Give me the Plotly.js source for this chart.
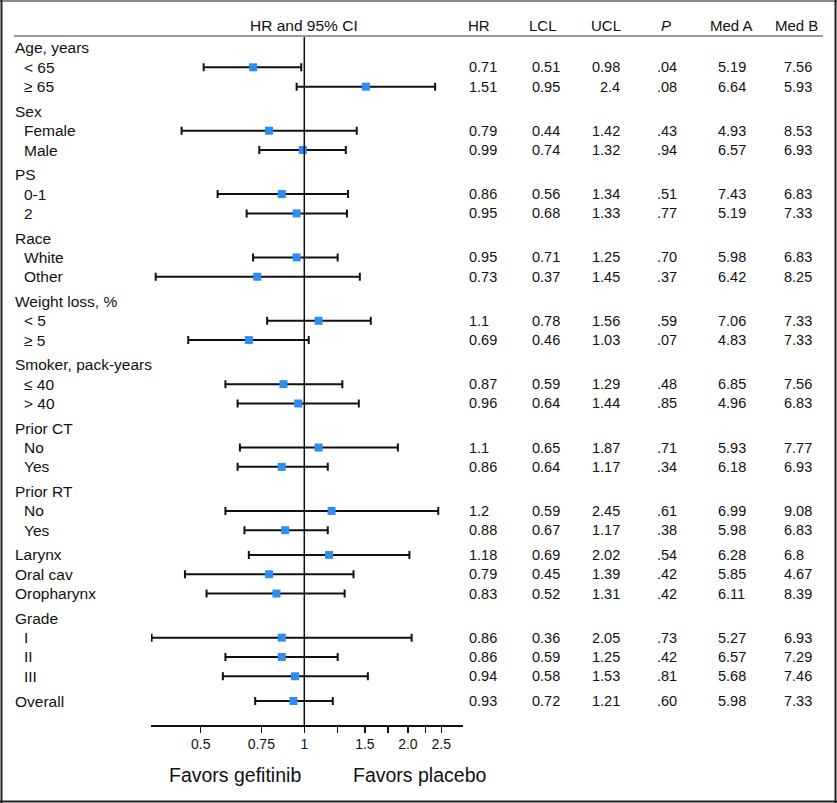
<!DOCTYPE html>
<html>
<head>
<meta charset="utf-8">
<script src="https://cdn.plot.ly/plotly-3.0.1.min.js"></script>
<style>html,body{margin:0;padding:0;background:#fff;}#chart{width:837px;height:803px;}</style>
</head>
<body>
<div id="chart"></div>
<script>
// ---- data ----
var rowLabels = ["Age, years","< 65","\u2265 65","Sex","Female","Male","PS","0-1","2","Race","White","Other",
  "Weight loss, %","< 5","\u2265 5","Smoker, pack-years","\u2264 40","> 40","Prior CT","No","Yes","Prior RT","No","Yes",
  "Larynx","Oral cav","Oropharynx","Grade","I","II","III","Overall"];
var rowLevel = [0,1,1,0,1,1,0,1,1,0,1,1,0,1,1,0,1,1,0,1,1,0,1,1,0,0,0,0,1,1,1,0];
var rowSection = [1,1,1,2,2,2,3,3,3,4,4,4,5,5,5,6,6,6,7,7,7,8,8,8,9,9,9,10,10,10,10,11];
var hr   = [null,0.71,1.51,null,0.79,0.99,null,0.86,0.95,null,0.95,0.73,null,1.1,0.69,null,0.87,0.96,null,1.1,0.86,null,1.2,0.88,1.18,0.79,0.83,null,0.86,0.86,0.94,0.93];
var lcl  = [null,0.51,0.95,null,0.44,0.74,null,0.56,0.68,null,0.71,0.37,null,0.78,0.46,null,0.59,0.64,null,0.65,0.64,null,0.59,0.67,0.69,0.45,0.52,null,0.36,0.59,0.58,0.72];
var ucl  = [null,0.98,2.4,null,1.42,1.32,null,1.34,1.33,null,1.25,1.45,null,1.56,1.03,null,1.29,1.44,null,1.87,1.17,null,2.45,1.17,2.02,1.39,1.31,null,2.05,1.25,1.53,1.21];
var pval = [null,".04",".08",null,".43",".94",null,".51",".77",null,".70",".37",null,".59",".07",null,".48",".85",null,".71",".34",null,".61",".38",".54",".42",".42",null,".73",".42",".81",".60"];
var medA = [null,5.19,6.64,null,4.93,6.57,null,7.43,5.19,null,5.98,6.42,null,7.06,4.83,null,6.85,4.96,null,5.93,6.18,null,6.99,5.98,6.28,5.85,6.11,null,5.27,6.57,5.68,5.98];
var medB = [null,7.56,5.93,null,8.53,6.93,null,6.83,7.33,null,6.83,8.25,null,7.33,7.33,null,7.56,6.83,null,7.77,6.93,null,9.08,6.83,6.8,4.67,8.39,null,6.93,7.29,7.46,7.33];
var tickVals = [0.5,0.75,1,1.25,1.5,1.75,2,2.25,2.5];
var tickText = ["0.5","0.75","1","","1.5","","2.0","","2.5"];
var colHeaders = ["HR","LCL","UCL","<i>P</i>","Med A","Med B"];

// ---- layout constants ----
var W = 837, H = 803;
var FONT = "Liberation Sans, Arial, sans-serif";
var GAP = 0.28;
var ys = [], y = 0;
for (var i = 0; i < rowLabels.length; i++) {
  if (i > 0 && rowSection[i] !== rowSection[i-1]) y += GAP;
  ys.push(y); y += 1;
}
var yTopPx = 36, yBotPx = 725, firstRowPx = 48, lastRowPx = 701;
var unitPx = (lastRowPx - firstRowPx) / (ys[ys.length-1] - ys[0]);
var yRange = [ys[ys.length-1] + (yBotPx - lastRowPx)/unitPx, ys[0] - (firstRowPx - yTopPx)/unitPx];

var px = [], py = [], ep = [], em = [];
for (var i = 0; i < hr.length; i++) {
  if (hr[i] === null) continue;
  px.push(hr[i]); py.push(ys[i]);
  ep.push(ucl[i] - hr[i]); em.push(hr[i] - lcl[i]);
}

var trace = {
  type: "scatter", mode: "markers", x: px, y: py,
  marker: {symbol: "square", size: 8, color: "#2b8ef0", line: {width: 0}},
  error_x: {type: "data", symmetric: false, array: ep, arrayminus: em, color: "#111", thickness: 2, width: 4},
  hoverinfo: "skip", cliponaxis: false
};

var ann = [];
function txt(x, yv, yref, t, size, anchor) {
  ann.push({x: x/W, xref: "paper", y: yv, yref: yref, text: t, showarrow: false,
    xanchor: anchor || "left", yanchor: "middle", font: {family: FONT, size: size, color: "#111"}});
}
// row labels
for (var i = 0; i < rowLabels.length; i++) {
  txt(rowLevel[i] === 0 ? 13 : 22, ys[i], "y", rowLabels[i], 15.5);
}
// table values
function fmt(v) { return v === null ? null : String(v); }
var colX = [467, 530, 622, 655, 716, 782];
var colAnchor = ["left","left","right","left","left","left"];
var cols = [hr, lcl, ucl, pval, medA, medB];
for (var c = 0; c < cols.length; c++) {
  for (var i = 0; i < rowLabels.length; i++) {
    var v = fmt(cols[c][i]);
    if (v !== null) txt(colX[c], ys[i], "y", v, 14.5, colAnchor[c]);
  }
}
// column headers
var hdrX = [479, 543, 606, 666, 731, 796];
for (var c = 0; c < colHeaders.length; c++) {
  ann.push({x: hdrX[c]/W, xref: "paper", y: 1 - 25/H, yref: "paper", text: colHeaders[c], showarrow: false,
    xanchor: "center", yanchor: "middle", font: {family: FONT, size: 15, color: "#111"}});
}
ann.push({x: 303.5/W, xref: "paper", y: 1 - 25/H, yref: "paper", text: "HR and 95% CI", showarrow: false,
  xanchor: "center", yanchor: "middle", font: {family: FONT, size: 15.5, color: "#111"}});
ann.push({x: 235/W, xref: "paper", y: 1 - 775/H, yref: "paper", text: "Favors gefitinib", showarrow: false,
  xanchor: "center", yanchor: "middle", font: {family: FONT, size: 19.5, color: "#111"}});
ann.push({x: 419.5/W, xref: "paper", y: 1 - 775/H, yref: "paper", text: "Favors placebo", showarrow: false,
  xanchor: "center", yanchor: "middle", font: {family: FONT, size: 19.5, color: "#111"}});

var shapes = [
  // vertical reference line at HR = 1
  {type: "line", xref: "x", yref: "paper", x0: 1, x1: 1, y0: 1 - yBotPx/H, y1: 1 - yTopPx/H, line: {color: "#111", width: 1.5}},
  // header underline
  {type: "line", xref: "paper", yref: "paper", x0: 14/W, x1: 823/W, y0: 1 - 36/H, y1: 1 - 36/H, line: {color: "#9a9a9a", width: 2}},
  // frame
  {type: "line", xref: "paper", yref: "paper", x0: 0, x1: 1, y0: 1 - 1/H, y1: 1 - 1/H, line: {color: "#8a8a8a", width: 2}},
  {type: "line", xref: "paper", yref: "paper", x0: 1.5/W, x1: 1.5/W, y0: 0, y1: 1, line: {color: "#222", width: 2}},
  {type: "line", xref: "paper", yref: "paper", x0: 835.5/W, x1: 835.5/W, y0: 0, y1: 1, line: {color: "#222", width: 2}},
  {type: "line", xref: "paper", yref: "paper", x0: 0, x1: 1, y0: 1.5/H, y1: 1.5/H, line: {color: "#222", width: 2}}
];

var xLeft = 151, xRight = 462.7, xOnePx = 304.3, pxPerDec = 344.2;
var layout = {
  width: W, height: H, margin: {l: 0, r: 0, t: 0, b: 0, pad: 0},
  paper_bgcolor: "#fff", plot_bgcolor: "rgba(0,0,0,0)", showlegend: false,
  xaxis: {type: "log", domain: [xLeft/W, xRight/W],
    range: [(xLeft - xOnePx)/pxPerDec, (xRight - xOnePx)/pxPerDec],
    tickvals: tickVals, ticktext: tickText, ticks: "outside", ticklen: 6, tickwidth: 1.2, tickcolor: "#111",
    showline: true, linecolor: "#111", linewidth: 1.5, showgrid: false, zeroline: false,
    tickfont: {family: FONT, size: 14, color: "#111"}, anchor: "y", fixedrange: true},
  yaxis: {domain: [1 - yBotPx/H, 1 - yTopPx/H], range: yRange, autorange: false,
    showticklabels: false, showgrid: false, zeroline: false, showline: false, ticks: "", fixedrange: true},
  annotations: ann, shapes: shapes
};
Plotly.newPlot("chart", [trace], layout, {displayModeBar: false, staticPlot: true});
</script>
</body>
</html>
